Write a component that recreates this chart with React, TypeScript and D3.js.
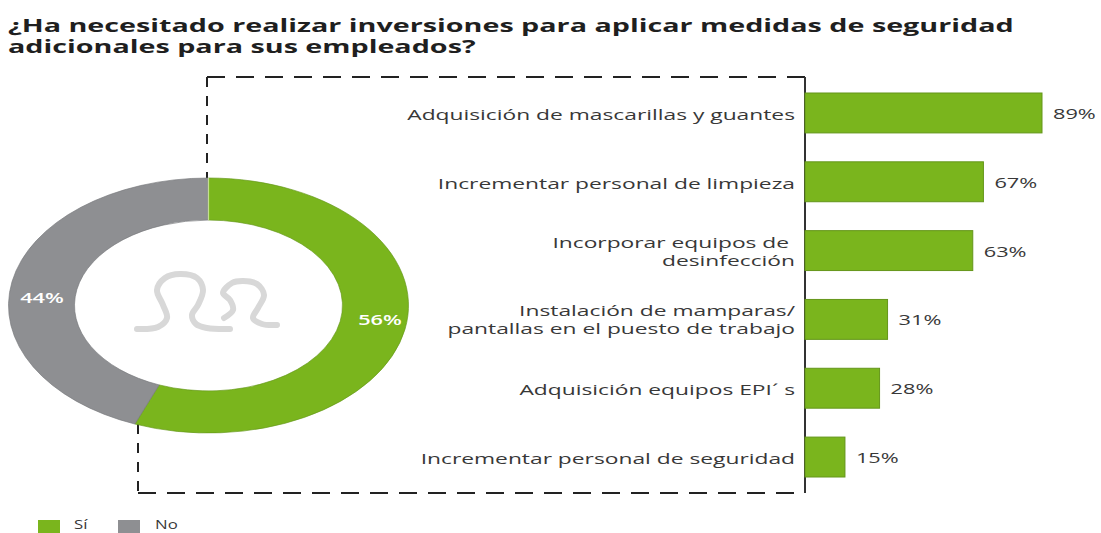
import React from "react";
import * as d3 from "d3";

const title = ["¿Ha necesitado realizar inversiones para aplicar medidas de seguridad", "adicionales para sus empleados?"];
const donutLabels = ["Sí", "No"];
const donutValues = [56, 44];
const barLabels = [
  ["Adquisición de mascarillas y guantes"],
  ["Incrementar personal de limpieza"],
  ["Incorporar equipos de\u00a0", "desinfección"],
  ["Instalación de mamparas/", "pantallas en el puesto de trabajo"],
  ["Adquisición equipos EPI´ s"],
  ["Incrementar personal de seguridad"],
];
const barValues = [89, 67, 63, 31, 28, 15];

const GREEN = "#7ab51d";
const GREEN_EDGE = "#64961a";
const GREY = "#8e8f92";
const INK = "#383838";
const FONT = "'Open Sans', 'Noto Sans', sans-serif";
const LABEL_SX = 1.52;
const TITLE_SX = 1.595;

// decorative icon in the hole of the ring
const iconA: [number, number][] = [[137, 329], [158, 327], [167, 318], [163, 305], [157, 290], [165, 278], [180, 274], [197, 278], [203, 290], [198, 305], [192, 315], [196, 324], [207, 328], [230, 329]];
const iconB: [number, number][] = [[224, 318], [233, 310], [230, 300], [223, 293], [232, 283], [243, 281], [257, 284], [264, 295], [258, 308], [253, 318], [262, 324], [277, 325]];
const iconLine = d3.line().curve(d3.curveCatmullRom.alpha(0.5));

function Stretched(props: { x: number; y: number; sx: number; anchor?: string; size: number; weight?: number; fill: string; lineGap?: number; lines: string[] }) {
  const { x, y, sx, anchor = "start", size, weight = 400, fill, lineGap = 0, lines } = props;
  return (
    <text transform={`translate(${x},${y}) scale(${sx},1)`} textAnchor={anchor} fontSize={size} fontWeight={weight} fill={fill}>
      {lines.map((l, j) => (
        <tspan key={j} x={0} y={j * lineGap}>{l}</tspan>
      ))}
    </text>
  );
}

export default function App() {
  const x = d3.scaleLinear().domain([0, 89]).range([805, 1042]);
  const y = d3.scaleBand<number>().domain(d3.range(6)).range([93, 477]).paddingInner(0.42).paddingOuter(0);
  const pie = d3.pie<number>().sort(null)(donutValues);
  const arc = d3.arc<d3.PieArcDatum<number>>().innerRadius(134).outerRadius(200);
  const ringSy = 127.5 / 200;
  return (
    <svg width={1101} height={533} style={{ position: "absolute", left: 0, top: 0, background: "#fff" }} fontFamily={FONT}>
      <Stretched x={8} y={32} sx={TITLE_SX} size={18} weight={700} fill="#1f1f1f" lineGap={21} lines={title} />
      <path d="M207 77H805" fill="none" stroke="#222" strokeWidth={1.8} strokeDasharray="18 11" />
      <path d="M207 77V178" fill="none" stroke="#222" strokeWidth={2} strokeDasharray="10 9" />
      <path d="M138 424V493" fill="none" stroke="#222" strokeWidth={2} strokeDasharray="10 9" />
      <path d="M138 493H805" fill="none" stroke="#222" strokeWidth={1.8} strokeDasharray="18 11" />
      <path d="M805 77V493" fill="none" stroke="#333" strokeWidth={2} />
      <g transform={`translate(208.5,305.5) scale(1,${ringSy})`}>
        {pie.map((p, i) => (
          <path key={i} d={arc(p) || ""} fill={i === 0 ? GREEN : GREY} stroke={i === 0 ? GREEN_EDGE : "#77787b"} strokeWidth={0.8} />
        ))}
        <line x1={0} y1={-134} x2={0} y2={-200} stroke="#c4dd92" strokeWidth={1.2} />
      </g>
      <Stretched x={380} y={325} sx={1.45} anchor="middle" size={15} weight={600} fill="#fff" lines={[`${donutValues[0]}%`]} />
      <Stretched x={42} y={303} sx={1.45} anchor="middle" size={15} weight={600} fill="#fff" lines={[`${donutValues[1]}%`]} />
      <path d={iconLine(iconA) || ""} fill="none" stroke="#d8d8d8" strokeWidth={6} strokeLinecap="round" />
      <path d={iconLine(iconB) || ""} fill="none" stroke="#d8d8d8" strokeWidth={6} strokeLinecap="round" />
      {barValues.map((v, i) => {
        const by = y(i)!;
        const bh = y.bandwidth();
        const mid = by + bh / 2;
        const lines = barLabels[i];
        return (
          <g key={i}>
            <rect x={x(0)} y={by} width={x(v) - x(0)} height={bh} fill={GREEN} stroke={GREEN_EDGE} strokeWidth={1} />
            <Stretched x={x(v) + 11} y={mid + 6} sx={1.45} size={15} weight={500} fill={INK} lines={[`${v}%`]} />
            <Stretched x={795} y={mid + (lines.length > 1 ? 6 - 9 : 7)} sx={LABEL_SX} anchor="end" size={15} fill={INK} lineGap={18} lines={lines} />
          </g>
        );
      })}
      {donutLabels.map((l, i) => (
        <g key={i}>
          <rect x={38 + i * 80} y={520} width={22} height={13} fill={i === 0 ? GREEN : GREY} />
          <Stretched x={74 + i * 81} y={529} sx={1.4} size={12} fill={INK} lines={[l]} />
        </g>
      ))}
    </svg>
  );
}
